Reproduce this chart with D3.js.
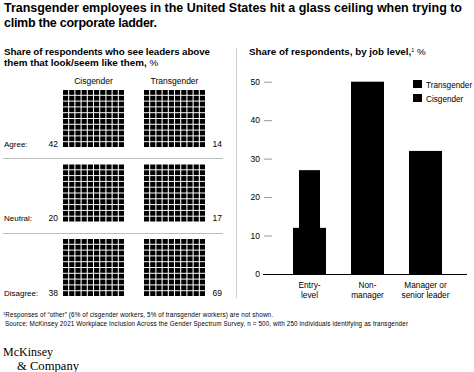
<!DOCTYPE html>
<html>
<head>
<meta charset="utf-8">
<script src="https://cdn.jsdelivr.net/npm/d3@7"></script>
<style>
  body { margin: 0; background: #fff; }
  svg text { font-family: "Liberation Sans", Arial, sans-serif; fill: #000; }
  .logo { font-family: "Liberation Serif", "DejaVu Serif", serif; }
</style>
</head>
<body>
<div id="chart"></div>
<script>
// datos waffle (izquierda)
const answers = ["Agree", "Neutral", "Disagree"];
const groups = ["Cisgender", "Transgender"];
const cisShare = [42, 20, 38];
const transShare = [14, 17, 69];

// datos barras (derecha)
const levels = [["Entry-", "level"], ["Non-", "manager"], ["Manager or", "senior leader"]];
const cisLevel = [12, 50, 32];
const transLevel = [27, 42, 26]; // ocultas detrás de las barras anchas salvo entry-level
const yTicks = [0, 10, 20, 30, 40, 50];
const legendItems = ["Transgender", "Cisgender"];

const w = 474, h = 372;
const svg = d3.select("#chart").append("svg")
    .attr("width", w)
    .attr("height", h);

// Títulos
function line(txt, x, y, size, weight, len) {
    const t = svg.append("text")
        .attr("x", x).attr("y", y)
        .style("font-size", size + "px")
        .style("font-weight", weight)
        .text(txt);
    if (len) t.attr("textLength", len).attr("lengthAdjust", "spacing");
    return t;
}
line("Transgender employees in the United States hit a glass ceiling when trying to", 4, 12, 12.5, "bold", 458);
line("climb the corporate ladder.", 4, 27, 12.5, "bold", 153);

line("Share of respondents who see leaders above", 4, 55, 9.8, "bold", 206);
const sub2 = line("them that look/seem like them, ", 4, 66, 9.8, "bold");
sub2.append("tspan").style("font-weight", "normal").text("%");

// Waffles
const yRow = d3.scaleBand().domain(answers).range([90, 296]).paddingInner(0.235);
const xGroup = d3.scaleOrdinal().domain(groups).range([63, 144]);
const gridW = 61;
const cellX = d3.scaleBand().domain(d3.range(10)).range([0, gridW]).paddingInner(0.17);

const cells = [];
answers.forEach((a, i) => {
    [cisShare[i], transShare[i]].forEach((v, j) => {
        d3.range(100).forEach(k => cells.push({ answer: a, group: groups[j], k: k, on: k < v }));
    });
});
const cellY = d3.scaleBand().domain(d3.range(10)).range([0, yRow.bandwidth()]).paddingInner(0.17);

svg.append("g").selectAll("rect")
    .data(cells)
    .join("rect")
    .attr("x", d => xGroup(d.group) + cellX(d.k % 10))
    .attr("y", d => yRow(d.answer) + cellY(Math.floor(d.k / 10)))
    .attr("width", cellX.bandwidth())
    .attr("height", cellY.bandwidth())
    .attr("fill", d => d.on ? "#000" : "#000");

groups.forEach(g => {
    svg.append("text")
        .attr("x", xGroup(g) + gridW / 2)
        .attr("y", 84)
        .style("font-size", "8.5px")
        .style("text-anchor", "middle")
        .text(g);
});

answers.forEach((a, i) => {
    const base = yRow(a) + yRow.bandwidth();
    svg.append("text").attr("x", 4).attr("y", base).style("font-size", "8px").text(a + ":");
    svg.append("text").attr("x", 58).attr("y", base).style("font-size", "8.5px")
        .style("text-anchor", "end").text(cisShare[i]);
    svg.append("text").attr("x", 222).attr("y", base).style("font-size", "8.5px")
        .style("text-anchor", "end").text(transShare[i]);
    if (i > 0) {
        const ySep = Math.round(yRow(a) - 6.5) + 0.5;
        svg.append("line")
            .attr("x1", 3).attr("x2", 223)
            .attr("y1", ySep).attr("y2", ySep)
            .attr("stroke", "#bbb").attr("stroke-width", 1);
    }
});

// Divisor
svg.append("line")
    .attr("x1", 236.5).attr("x2", 236.5)
    .attr("y1", 48).attr("y2", 298)
    .attr("stroke", "#ccc");

// Barras
const rt = line("Share of respondents, by job level,", 249, 55, 9.8, "bold");
rt.append("tspan").attr("dy", -3.5).style("font-size", "5.5px").style("font-weight", "normal").text("1");
rt.append("tspan").attr("dy", 3.5).style("font-weight", "normal").text(" %");

const yScale = d3.scaleLinear().domain([0, 50]).range([274, 81.7]);
const xScale = d3.scalePoint().domain(d3.range(3)).range([280.5, 454.5]).padding(0.5);

const yAxis = d3.axisLeft(yScale).tickValues(yTicks).tickSize(8).tickPadding(4);
const ax = svg.append("g")
    .attr("transform", "translate(272,0)")
    .call(yAxis);
ax.select(".domain").remove();
ax.selectAll(".tick line").attr("stroke", "#999");
ax.selectAll(".tick text")
    .style("font-size", "8.5px")
    .style("font-family", "Liberation Sans, Arial, sans-serif")
    .attr("fill", "#000");
ax.selectAll(".tick").filter(d => d === 0).select("line").remove();

svg.append("g").selectAll("rect")
    .data(cisLevel)
    .join("rect")
    .attr("x", (d, i) => xScale(i) - 16.5)
    .attr("width", 33)
    .attr("y", d => yScale(d))
    .attr("height", d => yScale(0) - yScale(d))
    .attr("fill", "#000");

svg.append("g").selectAll("rect")
    .data(transLevel)
    .join("rect")
    .attr("x", (d, i) => xScale(i) - 10.5)
    .attr("width", 21)
    .attr("y", d => yScale(d))
    .attr("height", d => yScale(0) - yScale(d))
    .attr("fill", "#000");

svg.append("line")
    .attr("x1", 263).attr("x2", 467)
    .attr("y1", yScale(0) + 0.5).attr("y2", yScale(0) + 0.5)
    .attr("stroke", "#000");

levels.forEach((l, i) => {
    l.forEach((s, k) => {
        svg.append("text")
            .attr("x", xScale(i))
            .attr("y", 288 + k * 10)
            .style("font-size", "8.3px")
            .style("text-anchor", "middle")
            .text(s);
    });
});

// Leyenda
legendItems.forEach((s, i) => {
    svg.append("rect").attr("x", 413).attr("y", 80 + i * 14).attr("width", 9).attr("height", 8).attr("fill", "#000");
    svg.append("text").attr("x", 426).attr("y", 87.5 + i * 14).style("font-size", "8.2px").text(s);
});

// Notas
const fn = svg.append("text").attr("x", 3).attr("y", 317).style("font-size", "6.3px")
    .attr("textLength", 270).attr("lengthAdjust", "spacing");
fn.append("tspan").attr("dy", -2).style("font-size", "4px").text("1");
fn.append("tspan").attr("dy", 2).text("Responses of \u201cother\u201d (6% of cisgender workers, 5% of transgender workers) are not shown.");
line("Source: McKinsey 2021 Workplace Inclusion Across the Gender Spectrum Survey, n = 500, with 250 individuals identifying as transgender", 5, 326, 6.3, "normal", 403);

// Logo
svg.append("text").attr("class", "logo").attr("x", 3).attr("y", 355.5)
    .style("font-size", "12px").attr("textLength", 50).attr("lengthAdjust", "spacingAndGlyphs").text("McKinsey");
svg.append("text").attr("class", "logo").attr("x", 17).attr("y", 369.5)
    .style("font-size", "12px").attr("textLength", 62).attr("lengthAdjust", "spacingAndGlyphs").text("& Company");
</script>
</body>
</html>
